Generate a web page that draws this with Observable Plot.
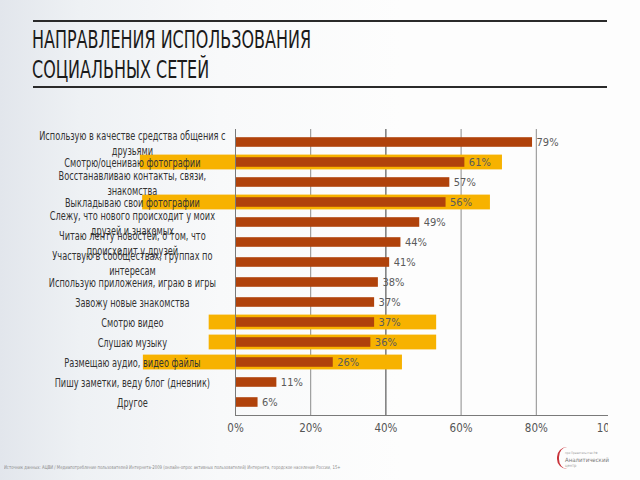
<!DOCTYPE html>
<html><head><meta charset="utf-8">
<script src="https://cdn.jsdelivr.net/npm/d3@7"></script>
<script src="https://cdn.jsdelivr.net/npm/@observablehq/plot@0.6"></script>
<style>
body{margin:0;}
#page{position:relative;width:640px;height:480px;overflow:hidden;background:linear-gradient(to right,#e2e6ec 0px,#eef1f4 80px,#f8f9fa 220px,#fdfdfd 400px);font-family:"DejaVu Sans Condensed","Liberation Sans Narrow",sans-serif;}
.rule{position:absolute;left:33px;width:574px;height:2px;background:#2a2a2a;}
#title{position:absolute;left:32px;top:25px;font-size:25px;line-height:30px;color:#1a1a1a;transform-origin:0 0;transform:scaleX(0.71);white-space:nowrap;}
#chart{position:absolute;left:0;top:0;width:640px;height:445px;clip-path:inset(0 32px 0 0);}
#chart svg{max-width:none;}
#source{position:absolute;left:4px;top:464px;font-size:5px;color:#8a8a8a;white-space:nowrap;transform-origin:0 0;transform:scaleX(0.85);}
#logo{position:absolute;left:557px;top:447px;width:50px;height:24px;}
#logo .arc{position:absolute;left:0;top:0;width:8px;height:22px;border-left:2px solid #c8333a;border-radius:10px 0 0 10px;}
#logo .t1{position:absolute;left:8px;top:4px;font-size:3px;color:#999;}
#logo .t2{position:absolute;left:8px;top:9px;font-size:6px;color:#777;}
#logo .t3{position:absolute;left:8px;top:16px;font-size:4px;color:#999;}
</style></head><body>
<div id="page">
  <div class="rule" style="top:20px"></div>
  <div id="title">НАПРАВЛЕНИЯ ИСПОЛЬЗОВАНИЯ<br>СОЦИАЛЬНЫХ СЕТЕЙ</div>
  <div class="rule" style="top:86px"></div>
  <div id="chart"></div>
  <div id="source">Источник данных: АЦВИ / Медиапотребление пользователей Интернета-2009 (онлайн-опрос активных пользователей) Интернета, городское население России, 15+</div>
  <div id="logo"><div class="arc"></div><div class="t1">при Правительстве РФ</div><div class="t2">Аналитический</div><div class="t3">центр</div></div>
</div>
<script>
const categories = [
  "Использую в качестве средства общения с\nдрузьями",
  "Смотрю/оцениваю фотографии",
  "Восстанавливаю контакты, связи,\nзнакомства",
  "Выкладываю свои фотографии",
  "Слежу, что нового происходит у моих\nдрузей и знакомых",
  "Читаю ленту новостей, о том, что\nпроисходит у друзей",
  "Участвую в сообществах, группах по\nинтересам",
  "Использую приложения, играю в игры",
  "Завожу новые знакомства",
  "Смотрю видео",
  "Слушаю музыку",
  "Размещаю аудио, видео файлы",
  "Пишу заметки, веду блог (дневник)",
  "Другое"
];
const values = [79, 61, 57, 56, 49, 44, 41, 38, 37, 37, 36, 26, 11, 6];
const highlightCats = ["Смотрю/оцениваю фотографии", "Выкладываю свои фотографии", "Смотрю видео", "Слушаю музыку", "Размещаю аудио, видео файлы"];
const highlightFrom = [-25.3, -24.7, -7, -7, -24.5];
const highlightTo = [71, 67.8, 53.5, 53.5, 44.4];
const xTicks = [0, 20, 40, 60, 80, 100];

const data = categories.map((c, i) => ({cat: c, value: values[i]}));
const hl = highlightCats.map((c, i) => ({cat: c, from: highlightFrom[i], to: highlightTo[i]}));
const font = '"DejaVu Sans Condensed","Liberation Sans Narrow",sans-serif';

const chart = Plot.plot({
  width: 640, height: 445,
  marginTop: 129, marginBottom: 30, marginLeft: 235, marginRight: 29,
  style: {background: "transparent", fontFamily: font, maxWidth: "none"},
  x: {domain: [0, 100]},
  y: {domain: categories, padding: 0},
  marks: [
    Plot.ruleX(xTicks.filter(t => t > 0 && t !== 40), {stroke: "#8c8c8c", strokeWidth: 1}),
    Plot.ruleX(xTicks.filter(t => t === 40), {stroke: "#3a3a3a", strokeWidth: 1}),
    Plot.barX(hl, {x1: "from", x2: "to", y: "cat", fill: "#f7b200", insetTop: 2.6, insetBottom: 2.6}),
    Plot.barX(data, {x: "value", y: "cat", fill: "#b0420b", insetTop: 5.2, insetBottom: 5.2}),
    Plot.text(data, {x: "value", y: "cat", text: d => d.value + "%", dx: 4, textAnchor: "start", fill: "#5a5a5a", fontSize: 11}),
    Plot.ruleX([0], {stroke: "#7a7a7a", strokeWidth: 1}),
    Plot.axisX({ticks: xTicks, tickFormat: d => d + "%", tickSize: 0, tickPadding: 8, fontSize: 11.5, color: "#555"}),
    Plot.frame({anchor: "bottom", stroke: "#7a7a7a"}),
    Plot.axisY({tickSize: 0, tickPadding: 103, textAnchor: "middle", fontSize: 12, lineHeight: 1.25, color: "#333", label: null})
  ]
});
document.getElementById("chart").appendChild(chart);
// condense the category labels around their common centre line
const lab = chart.querySelector('g[aria-label="y-axis tick label"]');
if (lab) {
  const cx = 235 - 103;
  const prev = lab.getAttribute("transform") || "";
  lab.setAttribute("transform", `translate(${cx},0) scale(0.76,1) translate(${-cx},0) ${prev}`);
}
</script>
</body></html>
